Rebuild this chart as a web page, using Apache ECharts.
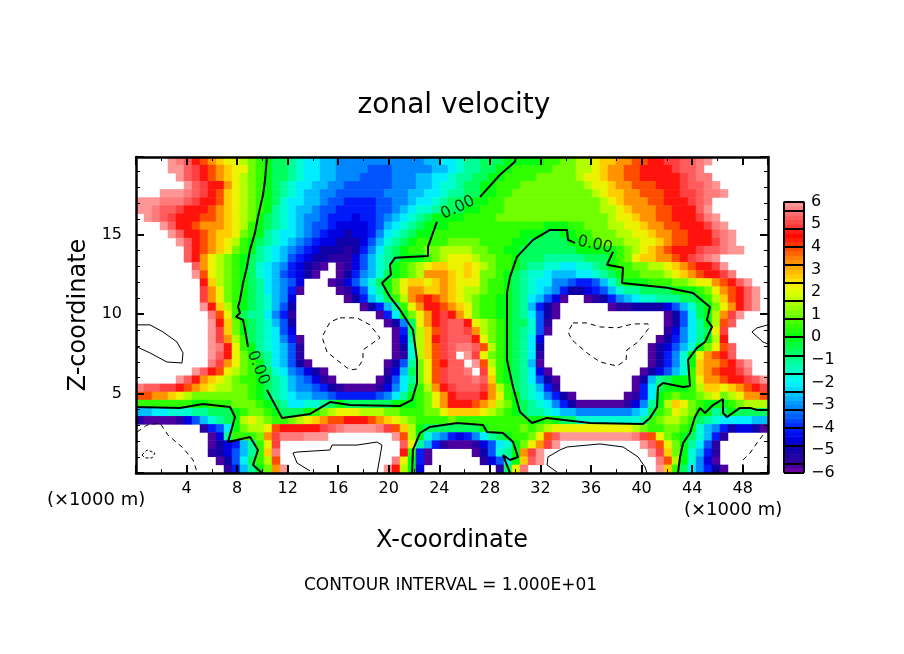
<!DOCTYPE html>
<html>
<head>
<meta charset="utf-8">
<title>zonal velocity</title>
<style>
  html, body { margin: 0; padding: 0; background: #fff; }
  #chart { width: 904px; height: 654px; }
</style>
<script src="https://cdn.jsdelivr.net/npm/echarts@6/dist/echarts.min.js"></script>
</head>
<body>
<div id="chart"></div>
<script>
// band for each letter, "." is out of range (drawn white)
const bandLetters = "abcdefghijklmnopqrstuvwxy";
const bandValues = [-5.7, -5.4, -5, -4.5, -4.1, -3.6, -3.1, -2.6, -2.1, -1.6, -1.1, -0.6, 0, 0.5, 1, 1.6, 2.2, 2.7, 3.3, 3.9, 4.6, 5, 5.3, 5.6, 5.9];

// field rows, top of the domain first, 79 columns (groups of 10 for readability)
const fieldRows = [
  "....yxwuts rqqponmllk jiihhggggg gggggghhii jkklllmmmm mnnooppqrr ssttuuvvww xy.......",
  "....yywvut srqqonmllk jiihhggggf ffggggghhi jkkllmmnnn nnoooppqrs sttuuuuvww x........",
  ".....ywvut srqponmllk jiihhgggff ffggghhiij kkllmmnnnn ooooopqqrs sttuuuuuvw xx.......",
  "......ywvu usqponmlkj iihhggffff ffggghhijj kllmmnnnoo oooooopqqr sstttuuuvw wxy......",
  "...yyyxwvu trqponmlkj ihhggfffff fggghhiijk kllmmnnooo ooooooopqr rsstttuuvv wxxy.....",
  "yyyxxxwvuu trqponmlji ihhgffeeee ffgghiijkl llmmnnoooo oooooooopq rsssttuuuv wx.......",
  "yyxwwvuuut srqponmkji hhgffeeeee ffghijjkll lmmnnnoooo oooooooopp qrsssttuuu wy.......",
  ".yxwvuuutt srqpomlkji hggfeeedee fghijklmmm mnnnnooooo ooooooooop qqrssttuuu vxy......",
  "...ywuutss srqpnmlkji hgffedddde fhijklmmmn nnnnnnnnnn nmmmnnooop pqqrssttuu uvxy.....",
  "....ywuuts rrqonmkjii hgfeddcdde gijklmmnnn nnnnnnnnmm mllmmnnooo ppqqrssttu uuwxy....",
  ".....ywuts rqpnmlkjih gfeddcccdf hjklmnnnno ooonnnnmml llllmmnnoo oppqqrsttu uuvxy....",
  "......wuts rqonmkjihg fedcccbceg iklmnnoopp ppoonnmmll lllllmmmmm nopqrstuuu vwwxyy...",
  "......wusq ponmlkjihf edccbbbdfh jklmmmnopq qqpoonnmll lkkkkklllm noqrrsstuv wxy......",
  ".......wsq ponmljihge dcba.abdfh jkmnopqrrq qrqponnmlk kjjiijjklm nnooppqrst uuvy.....",
  ".......ytq ponmljihfe dca..acegh jlmnopsssr qrqoonmlkj jihhhiijkl mnnooopqrs tuuvx....",
  "........ur ponmlkihgf d...abdfhj lmoqrrqrsr qqqonnmlkj iiggfeefhj lmmmnnnoop qqstuwy..",
  "........vs qonmlkihge a....abdfi kmoqssrrsr qpponnmlkj ihgeccdefh jkkllllmmm noqstuwy.",
  "........vs qonmlkjhgd ......aceh jlnpstutsr qponnmmlki hfda..abce ghijjkkkll mnprtuwy.",
  "........yu rpnmlkjhfc ........ac ehknqsuuts rqonnmmlkh eca......a bbccccdfhj lmoqsuwy.",
  ".........x tqnlkkigeb .......... aeimoqsuvu sqonnmmlki fca....... ......acfi lmpsvy...",
  ".........y uromlkjhfc .......... .acglqsuvw wuqponmllj fb........ ......acfi kmptw....",
  ".........y vromlkjifd .......... ..aelprtvw wvsponmlkj fa........ ......bdgi klqv.....",
  ".........y vspnlkjige a......... ..adkpruvw wwuqonmlki d......... .....acegi kmpu.....",
  ".........y xuqnmkjihf b......... ..acjprtvw xxwtpnmlki c......... ....acdfhj moqtw....",
  ".........y wuqomlkihf b......... ..abjprtvw .yvqonmlki b......... ....acegjm qstuw....",
  ".........x vsqonmkihf ca........ .acfkoqtuw w.ytpnmlkh a......... ....acegjm rsstuwy..",
  ".......ywu tqponmljig fdca...... .bdhloqtvw wx.vqnmlki da........ ...acdfhjn rstuuvx..",
  ".....ywusr qponnmlkjh gfdba..... acfikoqtvw wwxwrnmlki fca....... ..achklmmn qsstuuvwy",
  "xwwvvutsrq ppoonmlkjh ggfecbaaaa bdgilnpsuv wwwvspnlkj heb....... ..aeilmmmn prrqrstuv",
  "ttssrqpooo oooonmlkji hhggfeeeee fgikmnoqsu vvvusqnmkj igeca..... .abeimnonn opqopqsst",
  "nnnnnnnmmn nnooonmlki ijjklmllll llmmmnoqsu uutsrpomlk jigecaaaaa abdgkmprqo nmmmnoppp",
  "hhiijjjkkl llmnoonmll lmnopqqqpp poonnnooqr rrrqponmlk kjihhggggg gghilnoqpo mmklmllll",
  "baaaabdfhj klmpqponno pqrsttuuut srqponnnno nnnnnnnnnm mnmlljjjjj jjjknoppon lkjiiiihh",
  "........be fimoppqtuu uuuvwxyyyy xvtrpmllll lllmnnnnon opqqqqqqqq qqponnoonm jhgecddca",
  ".........a dknnnosvxx xyyy...... ..ytpmjhge degiklmnno qtwyyyyyyy yyxvtqonml jheb.....",
  ".........a cdehknqv.. .......... ...wqkheba aabdfijmoq svy....... ...ywtqomk ifb......",
  ".........b cdfhknrx.. .......... ...unea... ..acfjkmsv y......... ....yvromj heb......",
  ".......... acfilnpt.. .......... ..xqmea... ...bdfjmrw y......... .....xtpmj gda......",
  ".......... .behkmosy. .......... .yupmd.... .....blqx. .......... .....yrnli geca....."
];

// colour bar bands and the black dividers between its groups
const barBands = [-5.9, -5.7, -5.5, -5.3, -5.1, -4.9, -4.7, -4.5, -4.3, -4.1, -3.9, -3.7, -3.5, -3.3, -3.1, -2.9, -2.7, -2.5, -2.3, -2.1,
  -1.9, -1.7, -1.5, -1.3, -1.1, -0.9, -0.7, -0.5, -0.3, -0.1, 0.1, 0.3, 0.5, 0.7, 0.9, 1.1, 1.3, 1.5, 1.7, 1.9,
  2.1, 2.3, 2.5, 2.7, 2.9, 3.1, 3.3, 3.5, 3.7, 3.9, 4.1, 4.3, 4.5, 4.7, 4.9, 5.1, 5.3, 5.5, 5.7, 5.9];
const barEdges = [-6, -5.6, -4.8, -4, -3.2, -2.4, -1.6, -0.8, 0, 0.8, 1.6, 2.4, 3.2, 4, 4.8, 5.6, 6];
// one colour per half unit from -6 to 6, taken from the colour bar
const rampColors = ["#7800a0", "#3000a0", "#1000a8", "#0000e0", "#0020ff", "#0060ff", "#0090ff", "#00c8ff", "#00f8ff",
  "#00ffc8", "#00ff90", "#00ff50", "#00ff10", "#30ff00", "#70ff00", "#a8ff00", "#e0ff00", "#ffe000", "#ffb000",
  "#ff8000", "#ff4000", "#ff0800", "#ff4040", "#ff7070", "#ffa0a0"];

// contours in axis units: [x (km), z (km)]
const zeroLeftTop = [[10.36,19.91],[10.21,18.46],[10.05,17.52],[9.65,16.13],[9.41,15.12],[9.02,14.05],[8.78,12.98],[8.47,11.97],[8.23,10.9],[8.07,10.46],[8.23,10.08],[7.91,9.83],[8.47,9.64],[8.7,8.7],[8.86,7.94]];
const zeroMiddle = [[10.36,5.23],[11.55,3.47],[13.77,3.72],[15.35,4.47],[16.93,4.28],[20.89,4.22],[21.84,4.6],[22.23,5.67],[22.23,7.12],[21.91,9.01],[20.89,10.27],[20.09,11.09],[19.46,11.97],[20.17,12.48],[20.09,13.11],[20.49,13.55],[23.1,13.67],[23.1,14.24],[23.81,15.82]];
const zeroTop = [[27.22,17.39],[28.8,18.78],[29.98,19.6],[30.06,19.9]];
const zeroLowerLeft = [[0,4.16],[3.48,4.1],[5.3,4.35],[7.44,4.16],[7.83,3.53],[7.28,1.95],[9.02,2.27],[9.65,1.45],[9.26,0.5],[9.97,0]];
const zeroRightLoop = [[37.74,13.93],[37.26,13.11],[38.53,12.92],[38.45,11.97],[42.01,11.66],[44.07,11.34],[45.41,10.46],[45.17,9.64],[45.57,9.2],[45.02,8.25],[44.38,7.88],[43.67,7.12],[43.83,5.48],[43.28,5.42],[41.69,5.67],[41.3,5.42],[41.22,4.16],[40.66,3.47],[40.11,3.09],[35.92,3.15],[32.52,3.47],[31.33,3.15],[30.38,3.84],[29.83,5.42],[29.35,7.12],[29.35,11.34],[29.59,12.35],[30.14,13.61],[31.41,14.68],[32.75,15.31],[34.1,15.31],[34.18,14.68],[34.73,14.49]];
const zeroArch = [[21.84,0],[21.91,1.45],[22.47,2.52],[23.26,2.9],[25.4,3.15],[27.45,3.02],[27.77,2.58],[29.03,2.52],[29.83,1.95],[30.22,1.01],[29.59,0.82],[29.03,1.13],[29.59,0]];
const zeroLowerRight = [[42.88,0],[43.04,1.01],[43.28,1.89],[43.83,2.52],[44.22,3.53],[44.62,4.1],[45.02,3.78],[45.65,4.28],[46.44,4.66],[46.44,3.78],[46.76,3.53],[47.78,4.1],[48.58,4.1],[49.13,3.97],[50,3.97]];
const highLeft = [[0.08,9.33],[1.11,9.33],[2.14,8.88],[3.24,8.25],[3.72,7.56],[3.64,6.93],[2.45,6.99],[1.11,7.56],[0.08,7.94]];
const highBottomLeft = [[13.77,0.13],[12.74,0.63],[12.42,1.26],[12.74,1.32],[15.35,1.45],[15.51,1.76],[16.93,1.76],[17.48,1.76],[19.07,1.95],[19.46,1.76],[19.3,1.01],[19.07,0]];
const highBottomRight = [[33.31,0.06],[32.52,0.5],[32.59,1.01],[33.54,1.45],[34.1,1.64],[36.71,1.83],[38.53,1.64],[39.72,1.01],[40.27,0.38],[40.43,0]];
const highRight = [[50,9.33],[49.13,9.14],[48.73,8.88],[49.6,8.25],[50,8.13]];
const lowBlobLeft = [[16.14,9.77],[17.48,9.77],[18.51,9.33],[19.3,8.51],[17.96,7.75],[17.96,7.12],[17.48,6.55],[16.93,6.49],[16.38,6.81],[15.9,7.12],[15.11,7.62],[14.72,8.57],[15.35,9.51],[16.14,9.77]];
const lowBlobRight = [[34.57,9.45],[35.68,9.45],[36.71,9.2],[38.05,9.14],[39.32,9.39],[40.51,9.39],[40.59,9.14],[39.72,8.25],[38.84,7.75],[38.77,7.12],[38.05,6.74],[36.71,6.99],[35.68,7.56],[34.49,8.38],[34.18,8.88],[34.57,9.45]];
const lowCornerLeft = [[0.08,2.58],[0.87,3.02],[1.9,3.15],[2.53,2.39],[3.72,1.58],[4.51,0.82],[4.83,0.06]];
const lowCornerRing = [[0.47,1.13],[0.87,1.45],[1.5,1.26],[1.27,0.95],[0.71,0.95],[0.47,1.13]];
const lowCornerRight = [[49.6,2.39],[49.13,1.89],[48.58,1.26],[48.02,0.82],[48.02,0]];

const zeroLabels = [[9.65, 6.62, -68], [25.47, 16.7, 25], [36.31, 14.37, -12]];

const FONT = "'DejaVu Sans', sans-serif";

const cells = [];
fieldRows.forEach((row, j) => {
  row.replace(/ /g, "").split("").forEach((ch, i) => {
    if (ch !== ".") cells.push([i, j, bandValues[bandLetters.indexOf(ch)]]);
  });
});
const colCount = fieldRows[0].replace(/ /g, "").length;

function contour(points, width, type) {
  return {
    type: "line", data: points, xAxisIndex: 1, yAxisIndex: 1, z: 5,
    showSymbol: false, silent: true, animation: false, clip: true,
    lineStyle: { color: "#000", width: width, type: type || "solid" }
  };
}

function frameAxis(extra) {
  return Object.assign({
    type: "value", gridIndex: 0, z: 10, splitLine: { show: false },
    axisLine: { show: true, onZero: false, lineStyle: { color: "#000", width: 2.5 } },
    axisTick: { show: true, inside: true, length: 8, lineStyle: { color: "#000", width: 2 } },
    minorTick: { show: true, length: 4, lineStyle: { color: "#000", width: 1 } }
  }, extra);
}

const chart = echarts.init(document.getElementById("chart"), null, { renderer: "canvas" });
chart.setOption({
  animation: false,
  backgroundColor: "#fff",
  title: {
    text: "zonal velocity", left: 449, top: 87, textAlign: "center",
    textStyle: { fontFamily: FONT, fontWeight: "normal", fontSize: 28, color: "#000" }
  },
  grid: [
    { left: 136, top: 157, width: 632, height: 316 },
    { left: 784, top: 201.7, width: 20, height: 271 }
  ],
  visualMap: {
    show: false, type: "continuous", seriesIndex: [0, 1], dimension: 2,
    min: -6, max: 6, inRange: { color: rampColors }
  },
  xAxis: [
    { type: "category", gridIndex: 0, show: false, data: Array.from({ length: colCount }, (_, i) => i) },
    frameAxis({
      position: "bottom", min: 0, max: 50, interval: 4, minorTick: { show: true, splitNumber: 2, length: 4, lineStyle: { color: "#000", width: 1 } },
      name: "X-coordinate", nameLocation: "middle", nameGap: 56,
      nameTextStyle: { fontFamily: FONT, fontSize: 24, color: "#000" },
      axisLabel: { margin: 8, fontFamily: FONT, fontSize: 16, color: "#000", formatter: v => (v > 0 && v % 4 === 0 ? String(v) : "") }
    }),
    frameAxis({
      position: "top", min: 0, max: 50, interval: 4, minorTick: { show: true, splitNumber: 2, length: 4, lineStyle: { color: "#000", width: 1 } },
      axisLabel: { show: false }
    }),
    { type: "category", gridIndex: 1, show: false, data: [0] },
    { type: "value", gridIndex: 1, show: false, min: 0, max: 1 }
  ],
  yAxis: [
    { type: "category", gridIndex: 0, show: false, inverse: true, data: fieldRows.map((_, j) => j) },
    frameAxis({
      position: "left", min: 0, max: 19.9, interval: 5, minorTick: { show: true, splitNumber: 5, length: 4, lineStyle: { color: "#000", width: 1 } },
      name: "Z-coordinate", nameLocation: "middle", nameGap: 36, nameRotate: 90,
      nameTextStyle: { fontFamily: FONT, fontSize: 24, color: "#000" },
      axisLabel: { margin: 14, fontFamily: FONT, fontSize: 16, color: "#000", formatter: v => (v > 0 && v % 5 === 0 ? String(v) : "") }
    }),
    frameAxis({
      position: "right", min: 0, max: 19.9, interval: 5, minorTick: { show: true, splitNumber: 5, length: 4, lineStyle: { color: "#000", width: 1 } },
      axisLabel: { show: false }
    }),
    { type: "category", gridIndex: 1, show: false, data: barBands },
    {
      type: "value", gridIndex: 1, position: "right", min: -6, max: 6, interval: 1, z: 10,
      splitLine: { show: false }, axisTick: { show: false },
      axisLine: { show: false },
      axisLabel: { margin: 7, fontFamily: FONT, fontSize: 16, color: "#000", align: "left", formatter: v => (v < 0 ? "\u2212" + (-v) : String(v)) }
    }
  ],
  series: [
    {
      type: "heatmap", data: cells, xAxisIndex: 0, yAxisIndex: 0, z: 2, silent: true,
      progressive: 0, emphasis: { disabled: true }
    },
    {
      type: "heatmap", data: barBands.map((v, k) => [0, k, v]), xAxisIndex: 3, yAxisIndex: 3, z: 2, silent: true,
      emphasis: { disabled: true }
    },
    {
      // dividers and outline of the colour bar
      type: "line", data: [], xAxisIndex: 4, yAxisIndex: 4, z: 6, silent: true,
      markLine: {
        silent: true, symbol: "none", animation: false, label: { show: false },
        lineStyle: { color: "#000", width: 2, type: "solid" },
        data: barEdges.map(v => ({ yAxis: v })).concat([{ xAxis: 0 }, { xAxis: 1 }])
      }
    },
    contour(zeroLeftTop, 2), contour(zeroMiddle, 2), contour(zeroTop, 2), contour(zeroLowerLeft, 2),
    contour(zeroRightLoop, 2), contour(zeroArch, 2), contour(zeroLowerRight, 2),
    contour(highLeft, 1), contour(highBottomLeft, 1), contour(highBottomRight, 1), contour(highRight, 1),
    contour(lowBlobLeft, 1, [5, 4]), contour(lowBlobRight, 1, [5, 4]), contour(lowCornerLeft, 1, [5, 4]),
    contour(lowCornerRing, 1, [3, 2]), contour(lowCornerRight, 1, [5, 4]),
    {
      type: "scatter", xAxisIndex: 1, yAxisIndex: 1, z: 7, silent: true, symbolSize: 0,
      data: zeroLabels.map(p => ({
        value: [p[0], p[1]],
        label: { show: true, position: "inside", formatter: "0.00", rotate: p[2], fontFamily: FONT, fontSize: 16, color: "#000" }
      }))
    }
  ],
  graphic: [
    { type: "text", left: 47, top: 491, style: { text: "(\u00d71000 m)", font: "18px " + FONT, fill: "#000" } },
    { type: "text", left: 684, top: 501, style: { text: "(\u00d71000 m)", font: "18px " + FONT, fill: "#000" } },
    { type: "text", left: 304, top: 577, style: { text: "CONTOUR INTERVAL = 1.000E+01", font: "17px " + FONT, fill: "#000" } }
  ]
});
</script>
</body>
</html>
